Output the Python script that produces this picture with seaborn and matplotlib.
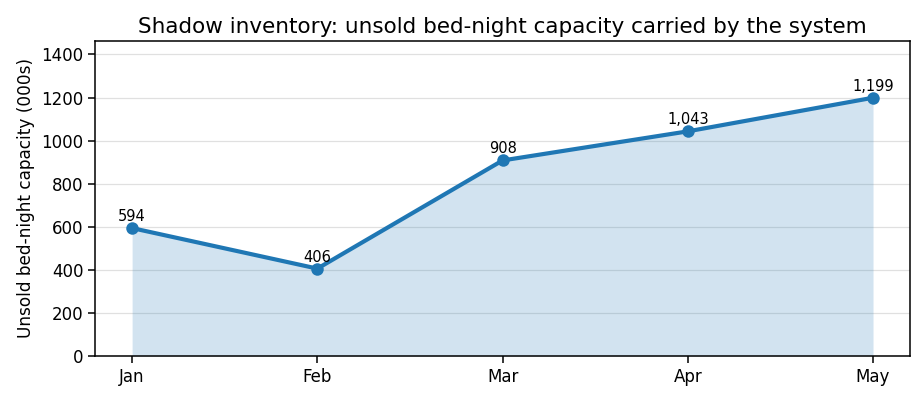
import matplotlib
matplotlib.use("Agg")
import matplotlib.pyplot as plt
import seaborn as sns
import pandas as pd

# datos
months = ["Jan", "Feb", "Mar", "Apr", "May"]
capacity = [594, 406, 908, 1043, 1199]

df = pd.DataFrame({"month": months, "capacity": capacity})
df["pos"] = range(len(months))

sns.set_style("white")
plt.rcParams["font.family"] = ["DejaVu Sans"]
plt.rcParams["text.color"] = "black"
plt.rcParams["axes.labelcolor"] = "black"
plt.rcParams["xtick.color"] = "black"
plt.rcParams["ytick.color"] = "black"

fig, ax = plt.subplots(figsize=(9.23, 4.01), dpi=100)
color = "#1f77b4"

ax.fill_between(df["pos"], df["capacity"], color=color, alpha=0.2, linewidth=0)
sns.lineplot(data=df, x="pos", y="capacity", marker="o", markersize=9,
             linewidth=3, color=color, markeredgewidth=0, ax=ax)

for x, y in zip(df["pos"], df["capacity"]):
    ax.annotate(f"{y:,}", (x, y), textcoords="offset points", xytext=(0, 5),
                ha="center", fontsize=10.5, color="black")

ax.set_xticks(df["pos"])
ax.set_xticklabels(months, fontsize=12)
ax.tick_params(axis="y", labelsize=12)
ax.tick_params(axis="both", length=5, width=1.1, color="black", bottom=True, left=True)
ax.set_xlim(-0.2, 4.2)
ax.set_ylim(0, max(capacity) * 1.22)
ax.set_xlabel("")
ax.set_ylabel("Unsold bed-night capacity (000s)", fontsize=12.2, color="black")
ax.set_title("Shadow inventory: unsold bed-night capacity carried by the system",
             fontsize=15.5, color="black")
ax.yaxis.grid(True, color="#cccccc", linewidth=0.9, alpha=0.6)
ax.set_axisbelow(True)
for s in ax.spines.values():
    s.set_color("black")
    s.set_linewidth(1.1)

plt.subplots_adjust(left=0.103, right=0.986, top=0.898, bottom=0.112)
plt.savefig("out.png", dpi=100)
plt.close(fig)
